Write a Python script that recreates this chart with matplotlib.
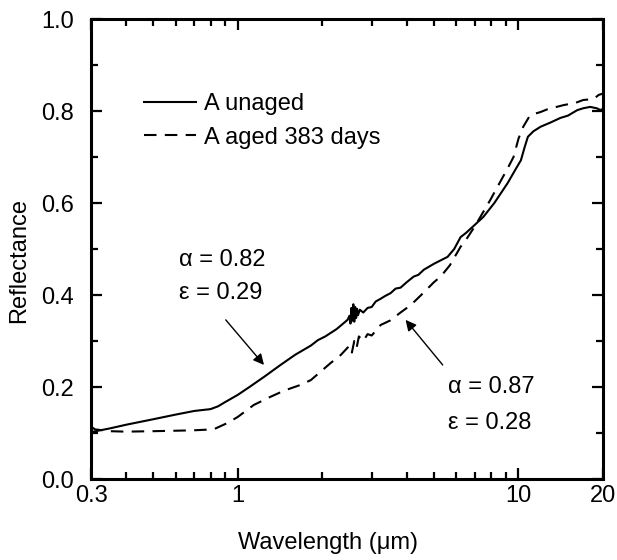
import matplotlib
matplotlib.use("Agg")
import matplotlib.pyplot as plt
from matplotlib.ticker import FixedLocator, NullFormatter

plt.rcParams['font.family'] = ['Liberation Sans', 'DejaVu Sans']

# --- data ---
unaged_x = [0.30, 0.35, 0.40, 0.50, 0.60, 0.70, 0.80, 0.85, 0.90, 1.00, 1.10, 1.24,
            1.42, 1.60, 1.82, 1.93, 2.05, 2.25, 2.46, 2.50, 2.52, 2.54, 2.56, 2.58,
            2.60, 2.62, 2.64, 2.66, 2.68, 2.72, 2.80, 2.90, 3.00, 3.10, 3.23, 3.35,
            3.50, 3.65, 3.80, 4.00, 4.23, 4.40, 4.60, 5.00, 5.59, 5.90, 6.22, 6.50,
            7.00, 7.50, 8.20, 9.14, 9.80, 10.2, 10.5, 10.8, 11.3, 12.0, 13.0, 14.1,
            15.0, 16.2, 17.0, 18.0, 19.0, 19.6, 20.0]
unaged_y = [0.102, 0.110, 0.118, 0.130, 0.140, 0.148, 0.152, 0.158, 0.167, 0.183, 0.200, 0.222,
            0.248, 0.270, 0.290, 0.302, 0.310, 0.326, 0.346, 0.355, 0.338, 0.372, 0.344, 0.380,
            0.342, 0.374, 0.350, 0.370, 0.356, 0.368, 0.362, 0.372, 0.374, 0.386, 0.392, 0.398,
            0.404, 0.414, 0.416, 0.428, 0.440, 0.444, 0.455, 0.468, 0.483, 0.500, 0.526, 0.535,
            0.553, 0.570, 0.600, 0.643, 0.675, 0.693, 0.720, 0.744, 0.756, 0.766, 0.775, 0.785,
            0.790, 0.802, 0.806, 0.809, 0.806, 0.802, 0.805]

aged_x = [0.30, 0.31, 0.35, 0.40, 0.50, 0.60, 0.70, 0.82, 0.92, 1.00, 1.14, 1.30,
          1.46, 1.68, 1.82, 2.14, 2.33, 2.50, 2.55, 2.60, 2.65, 2.70, 2.80, 2.90,
          3.00, 3.23, 3.50, 3.80, 4.13, 4.50, 5.00, 5.28, 5.70, 6.22, 6.50, 7.00,
          7.94, 8.50, 9.14, 9.60, 10.0, 10.4, 11.0, 12.0, 12.7, 14.5, 16.0, 17.0,
          18.5, 19.3, 20.0]
aged_y = [0.114, 0.108, 0.104, 0.103, 0.104, 0.105, 0.106, 0.108, 0.122, 0.135, 0.161, 0.178,
          0.192, 0.205, 0.215, 0.252, 0.270, 0.290, 0.275, 0.300, 0.285, 0.310, 0.300, 0.315,
          0.312, 0.335, 0.345, 0.362, 0.378, 0.400, 0.428, 0.440, 0.465, 0.505, 0.520, 0.550,
          0.607, 0.640, 0.675, 0.700, 0.740, 0.766, 0.791, 0.798, 0.804, 0.813, 0.818, 0.824,
          0.826, 0.835, 0.838]

series_labels = ["A unaged", "A aged 383 days"]
x_tick_values = [0.3, 1, 10, 20]
x_tick_labels = ["0.3", "1", "10", "20"]
x_minor_values = [0.4, 0.5, 0.6, 0.7, 0.8, 0.9, 2, 3, 4, 5, 6, 7, 8, 9]
y_tick_values = [0.0, 0.2, 0.4, 0.6, 0.8, 1.0]
y_minor_values = [0.1, 0.3, 0.5, 0.7, 0.9]

FS = 17

fig = plt.figure(figsize=(6.17, 5.6), dpi=100)
ax = fig.add_axes([0.1475, 0.1446, 0.8298, 0.8214])

ax.plot(unaged_x, unaged_y, color='black', lw=1.5, label=series_labels[0])
ax.plot(aged_x, aged_y, color='black', lw=1.5, dashes=(6, 4), label=series_labels[1])

ax.set_xscale('log')
ax.set_xlim(0.3, 20)
ax.set_ylim(0.0, 1.0)
ax.xaxis.set_major_locator(FixedLocator(x_tick_values))
ax.set_xticklabels(x_tick_labels)
ax.xaxis.set_minor_locator(FixedLocator(x_minor_values))
ax.xaxis.set_minor_formatter(NullFormatter())
ax.set_yticks(y_tick_values)
ax.set_yticklabels([f"{v:.1f}" for v in y_tick_values])
ax.yaxis.set_minor_locator(FixedLocator(y_minor_values))

for s in ax.spines.values():
    s.set_linewidth(2.2)
ax.tick_params(which='both', direction='in', top=True, right=True, width=1.6)
ax.tick_params(which='major', length=8)
ax.tick_params(which='minor', length=5)
ax.tick_params(axis='x', which='major', labelsize=FS, pad=4)
ax.tick_params(axis='y', which='major', labelsize=FS, pad=12)

ax.set_xlabel("Wavelength (\u03bcm)", fontsize=FS, labelpad=18)
ax.set_ylabel("Reflectance", fontsize=FS, labelpad=8)
ax.xaxis.label.set_x(0.463)
ax.yaxis.label.set_y(0.474)

ax.legend(loc='upper left', bbox_to_anchor=(0.085, 0.86), frameon=False,
          fontsize=FS, handlelength=2.2, handletextpad=0.35, labelspacing=0.5,
          borderaxespad=0.0)

ax.annotate("", xy=(1.24, 0.248), xytext=(0.906, 0.346),
            arrowprops=dict(arrowstyle='-|>', color='black', lw=1.0,
                            mutation_scale=16, shrinkA=0, shrinkB=0))
ax.text(0.617, 0.476, "\u03b1 = 0.82", fontsize=FS, ha='left', va='center')
ax.text(0.617, 0.405, "\u03b5 = 0.29", fontsize=FS, ha='left', va='center')

ax.annotate("", xy=(3.96, 0.346), xytext=(5.37, 0.248),
            arrowprops=dict(arrowstyle='-|>', color='black', lw=1.0,
                            mutation_scale=16, shrinkA=0, shrinkB=0))
ax.text(5.63, 0.200, "\u03b1 = 0.87", fontsize=FS, ha='left', va='center')
ax.text(5.63, 0.122, "\u03b5 = 0.28", fontsize=FS, ha='left', va='center')

fig.savefig("out.png", dpi=100)
